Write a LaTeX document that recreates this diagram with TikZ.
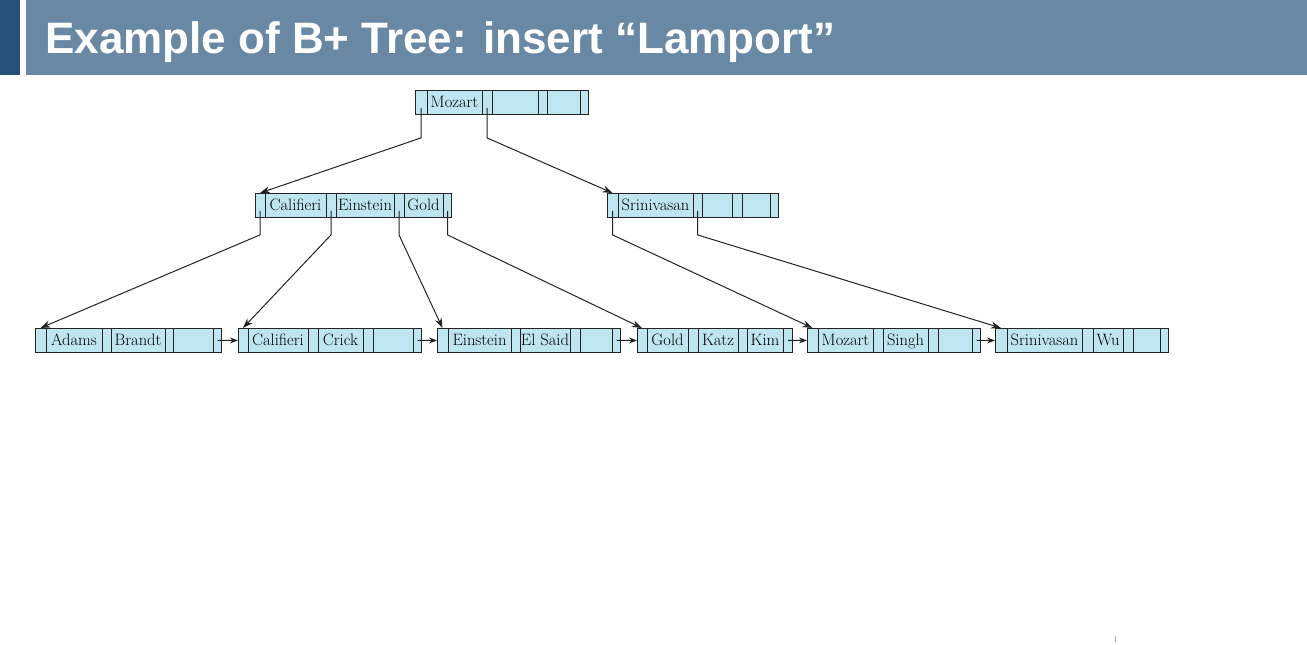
\documentclass[tikz,border=0pt]{standalone}
\usepackage{fontspec}
\newfontfamily\titlefont{Liberation Sans}
\usepackage{xcolor}
\usepackage{tikz}
\usetikzlibrary{shapes.multipart,arrows.meta,positioning,calc}

\definecolor{cellblue}{RGB}{190,229,240}
\definecolor{hdrdark}{RGB}{38,82,122}
\definecolor{hdrblue}{RGB}{104,136,163}
\definecolor{linegray}{RGB}{35,35,35}

% one cell of a B+ tree node: width in pt, then its key
\newcommand{\bpcell}[2]{\makebox[\dimexpr#1pt-0.9pt\relax]{\rule[-7pt]{0pt}{24pt}#2}}

\tikzset{
  bpnode/.style={draw=linegray, fill=cellblue, line width=0.9pt, rectangle split, rectangle split horizontal,
    rectangle split parts=7, inner sep=0pt, anchor=north west, font=\fontsize{16.5}{19}\selectfont},
  treearrow/.style={-{Stealth[length=10pt,width=7pt]}, line width=1pt, draw=linegray},
  chainarrow/.style={-{Stealth[length=8pt,width=6pt]}, line width=1pt, draw=linegray},
}

\begin{document}
\begin{tikzpicture}[x=1pt, y=-1pt]
  \useasboundingbox (0,0) rectangle (1307,645);

  % Header band
  \fill[hdrdark] (0,0) rectangle (20,75);
  \fill[hdrblue] (26,0) rectangle (1307,75);
  \node[anchor=base west, inner sep=0pt, text=white, font=\titlefont\bfseries\fontsize{44}{50}\selectfont] (title) at (45,53) {Example of B+ Tree: insert “Lamport”};

  % Root
  \node[bpnode] (root) at (415,90) {\bpcell{12}{}\nodepart{two}\bpcell{55}{Mozart}\nodepart{three}\bpcell{10}{}\nodepart{four}\bpcell{46}{}\nodepart{five}\bpcell{9}{}\nodepart{six}\bpcell{33}{}\nodepart{seven}\bpcell{9}{}};

  % Internal nodes
  \node[bpnode] (int_cal) at (255,193) {\bpcell{10}{}\nodepart{two}\bpcell{61}{Califieri}\nodepart{three}\bpcell{10}{}\nodepart{four}\bpcell{58}{Einstein}\nodepart{five}\bpcell{10}{}\nodepart{six}\bpcell{39}{Gold}\nodepart{seven}\bpcell{9}{}};
  \node[bpnode] (int_sri) at (607,193) {\bpcell{11}{}\nodepart{two}\bpcell{75}{Srinivasan}\nodepart{three}\bpcell{9}{}\nodepart{four}\bpcell{30}{}\nodepart{five}\bpcell{10}{}\nodepart{six}\bpcell{28}{}\nodepart{seven}\bpcell{9}{}};

  % Leaves
  \node[bpnode] (leaf_adams) at (35,328) {\bpcell{11}{}\nodepart{two}\bpcell{56}{Adams}\nodepart{three}\bpcell{9}{}\nodepart{four}\bpcell{54}{Brandt}\nodepart{five}\bpcell{8}{}\nodepart{six}\bpcell{40}{}\nodepart{seven}\bpcell{9}{}};
  \node[bpnode, right=16pt of leaf_adams] (leaf_cal) {\bpcell{10}{}\nodepart{two}\bpcell{60}{Califieri}\nodepart{three}\bpcell{10}{}\nodepart{four}\bpcell{45}{Crick}\nodepart{five}\bpcell{10}{}\nodepart{six}\bpcell{40}{}\nodepart{seven}\bpcell{9}{}};
  \node[bpnode, right=15pt of leaf_cal] (leaf_ein) {\bpcell{11}{}\nodepart{two}\bpcell{63}{Einstein}\nodepart{three}\bpcell{9}{}\nodepart{four}\bpcell{50}{El Said}\nodepart{five}\bpcell{10}{}\nodepart{six}\bpcell{32}{}\nodepart{seven}\bpcell{9}{}};
  \node[bpnode, right=16pt of leaf_ein] (leaf_gold) {\bpcell{10}{}\nodepart{two}\bpcell{41}{Gold}\nodepart{three}\bpcell{10}{}\nodepart{four}\bpcell{40}{Katz}\nodepart{five}\bpcell{9}{}\nodepart{six}\bpcell{36}{Kim}\nodepart{seven}\bpcell{10}{}};
  \node[bpnode, right=14pt of leaf_gold] (leaf_moz) {\bpcell{11}{}\nodepart{two}\bpcell{55}{Mozart}\nodepart{three}\bpcell{10}{}\nodepart{four}\bpcell{45}{Singh}\nodepart{five}\bpcell{10}{}\nodepart{six}\bpcell{34}{}\nodepart{seven}\bpcell{9}{}};
  \node[bpnode, right=14pt of leaf_moz] (leaf_sri) {\bpcell{12}{}\nodepart{two}\bpcell{75}{Srinivasan}\nodepart{three}\bpcell{11}{}\nodepart{four}\bpcell{30}{Wu}\nodepart{five}\bpcell{10}{}\nodepart{six}\bpcell{27}{}\nodepart{seven}\bpcell{9}{}};

  % Root pointers
  \draw[treearrow] ($(root.south west)!0.5!(root.one split south)+(0,-7)$) -- ++(0,30) -- ($(int_cal.north west)!0.5!(int_cal.one split north)$);
  \draw[treearrow] ($(root.two split south)!0.5!(root.three split south)+(0,-7)$) -- ++(0,30) -- ($(int_sri.north west)!0.5!(int_sri.one split north)$);

  % Internal pointers
  \draw[treearrow] ($(int_cal.south west)!0.5!(int_cal.one split south)+(0,-7)$) -- ++(0,24) -- ($(leaf_adams.north west)!0.5!(leaf_adams.one split north)$);
  \draw[treearrow] ($(int_cal.two split south)!0.5!(int_cal.three split south)+(0,-7)$) -- ++(0,24) -- ($(leaf_cal.north west)!0.5!(leaf_cal.one split north)$);
  \draw[treearrow] ($(int_cal.four split south)!0.5!(int_cal.five split south)+(0,-7)$) -- ++(0,24) -- ($(leaf_ein.north west)!0.5!(leaf_ein.one split north)$);
  \draw[treearrow] ($(int_cal.six split south)!0.5!(int_cal.south east)+(0,-7)$) -- ++(0,24) -- ($(leaf_gold.north west)!0.5!(leaf_gold.one split north)$);
  \draw[treearrow] ($(int_sri.south west)!0.5!(int_sri.one split south)+(0,-7)$) -- ++(0,24) -- ($(leaf_moz.north west)!0.5!(leaf_moz.one split north)$);
  \draw[treearrow] ($(int_sri.two split south)!0.5!(int_sri.three split south)+(0,-7)$) -- ++(0,24) -- ($(leaf_sri.north west)!0.5!(leaf_sri.one split north)$);

  % Leaf chain
  \draw[chainarrow] ($(leaf_adams.six split)!0.5!(leaf_adams.east)$) -- (leaf_cal.west);
  \draw[chainarrow] ($(leaf_cal.six split)!0.5!(leaf_cal.east)$) -- (leaf_ein.west);
  \draw[chainarrow] ($(leaf_ein.six split)!0.5!(leaf_ein.east)$) -- (leaf_gold.west);
  \draw[chainarrow] ($(leaf_gold.six split)!0.5!(leaf_gold.east)$) -- (leaf_moz.west);
  \draw[chainarrow] ($(leaf_moz.six split)!0.5!(leaf_moz.east)$) -- (leaf_sri.west);

  % stray mark
  \draw[gray!70, line width=1pt] (1115,636) -- (1115,642);
\end{tikzpicture}
\end{document}
